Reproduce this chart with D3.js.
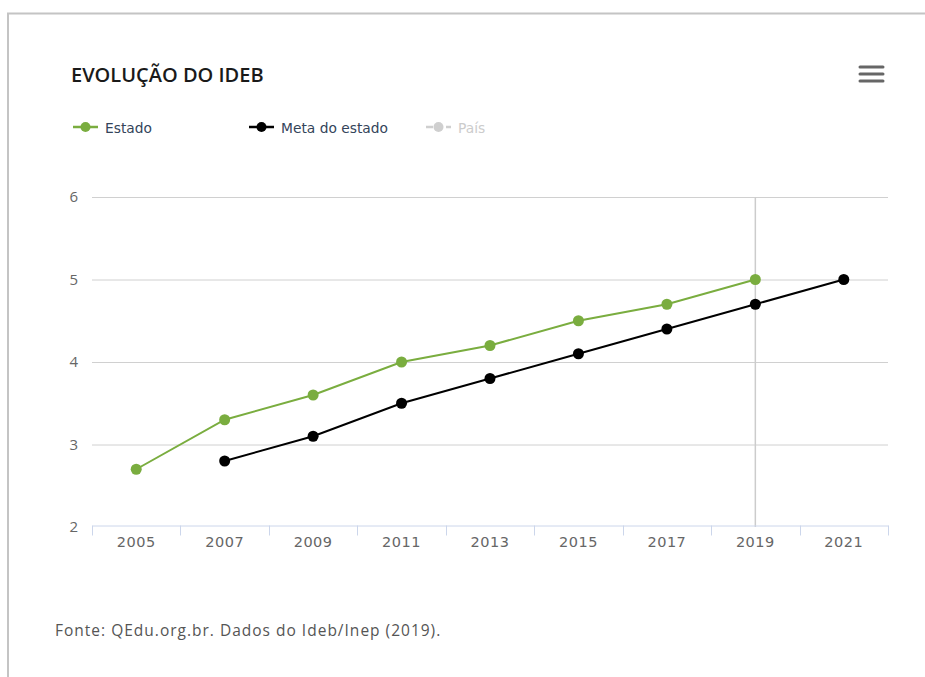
<!DOCTYPE html>
<html>
<head>
<meta charset="utf-8">
<script src="https://cdn.jsdelivr.net/npm/d3@7"></script>
<style>
  html, body { margin: 0; padding: 0; background: #fff; }
  svg { display: block; }
</style>
</head>
<body>
<svg id="chart" width="925" height="677"></svg>
<script>
// IDEB series by year
const years = ["2005", "2007", "2009", "2011", "2013", "2015", "2017", "2019", "2021"];
const estado = [2.7, 3.3, 3.6, 4.0, 4.2, 4.5, 4.7, 5.0, null];
const metaEstado = [null, 2.8, 3.1, 3.5, 3.8, 4.1, 4.4, 4.7, 5.0];
const yTicks = [2, 3, 4, 5, 6];
const legendItems = [
  { name: "Estado", color: "#7aad3f", text: "#34445a", dash: null },
  { name: "Meta do estado", color: "#000000", text: "#34445a", dash: null },
  { name: "País", color: "#cfcfcf", text: "#cccccc", dash: "7,3" }
];

const svg = d3.select("#chart");

// container frame: top and left rules
svg.append("line").attr("x1", 7).attr("x2", 925).attr("y1", 13.5).attr("y2", 13.5)
  .attr("stroke", "#c4c4c4").attr("stroke-width", 2);
svg.append("line").attr("x1", 8).attr("x2", 8).attr("y1", 13).attr("y2", 677)
  .attr("stroke", "#c4c4c4").attr("stroke-width", 2);

// title
svg.append("text").attr("x", 71).attr("y", 82)
  .attr("font-family", "'Open Sans', sans-serif").attr("font-size", 20)
  .attr("font-weight", 600).attr("fill", "#1a1a1a")
  .text("EVOLUÇÃO DO IDEB");

// menu icon
[67, 74, 81].forEach(yy => {
  svg.append("line").attr("x1", 860).attr("x2", 883).attr("y1", yy).attr("y2", yy)
    .attr("stroke", "#666").attr("stroke-width", 3).attr("stroke-linecap", "round");
});

// legend
const legendX = [73, 249, 426];
const lg = svg.append("g").attr("font-family", "'DejaVu Sans', sans-serif").attr("font-size", 13.8);
legendItems.forEach((d, i) => {
  const g = lg.append("g").attr("transform", `translate(${legendX[i]},127)`);
  g.append("line").attr("x1", 0).attr("x2", 25).attr("stroke", d.color).attr("stroke-width", 2.5)
    .attr("stroke-dasharray", d.dash);
  g.append("circle").attr("cx", 12.5).attr("r", 5).attr("fill", d.color);
  g.append("text").attr("x", 32).attr("y", 5.5).attr("fill", d.text).text(d.name);
});

// plot area bounds and scales
const plotLeft = 92, plotRight = 888, plotTop = 197, plotBottom = 527;
const x = d3.scaleBand().domain(years).range([plotLeft, plotRight]);
const y = d3.scaleLinear().domain([2, 6]).range([plotBottom, plotTop]);

// horizontal grid
svg.append("g").selectAll("line").data(yTicks.filter(t => t > 2)).join("line")
  .attr("x1", plotLeft).attr("x2", plotRight)
  .attr("y1", d => y(d) + 0.5).attr("y2", d => y(d) + 0.5)
  .attr("stroke", "#d0d0d0").attr("stroke-width", 1);

// y axis labels
svg.append("g").selectAll("text").data(yTicks).join("text")
  .attr("x", 78).attr("y", d => y(d) + 5)
  .attr("text-anchor", "end")
  .attr("font-family", "'Open Sans', sans-serif").attr("font-size", 15)
  .attr("fill", "#666").text(d => d);

// crosshair at 2019
svg.append("line")
  .attr("x1", x("2019") + x.bandwidth() / 2).attr("x2", x("2019") + x.bandwidth() / 2)
  .attr("y1", plotTop).attr("y2", plotBottom)
  .attr("stroke", "#cccccc").attr("stroke-width", 1.5);

// x axis
const xAxis = svg.append("g").attr("transform", `translate(0,${plotBottom - 1.5})`)
  .call(d3.axisBottom(x).tickSize(0));
xAxis.select(".domain").attr("stroke", "#ccd6eb");
xAxis.selectAll(".tick text")
  .attr("y", 21.5).attr("dy", null)
  .attr("font-family", "'DejaVu Sans', sans-serif")
  .attr("font-size", 14.5).attr("letter-spacing", 0.5).attr("fill", "#666");
// category boundary ticks
xAxis.append("g").selectAll("line")
  .data(years.map(d => x(d)).concat([plotRight]))
  .join("line")
  .attr("x1", d => Math.round(d) + 0.5).attr("x2", d => Math.round(d) + 0.5)
  .attr("y1", 0).attr("y2", 10)
  .attr("stroke", "#ccd6eb");

// series
const cx = d => x(d) + x.bandwidth() / 2;
const seriesDefs = [
  { values: estado, color: "#7aad3f" },
  { values: metaEstado, color: "#000000" }
];
seriesDefs.forEach(s => {
  const pts = years.map((yr, i) => ({ yr, v: s.values[i] })).filter(p => p.v != null);
  const line = d3.line().x(p => cx(p.yr)).y(p => y(p.v));
  svg.append("path").datum(pts).attr("d", line)
    .attr("fill", "none").attr("stroke", s.color).attr("stroke-width", 2);
  svg.append("g").selectAll("circle").data(pts).join("circle")
    .attr("cx", p => cx(p.yr)).attr("cy", p => y(p.v)).attr("r", 5.5)
    .attr("fill", s.color);
});

// source note
svg.append("text").attr("x", 55).attr("y", 636)
  .attr("font-family", "'Open Sans', sans-serif").attr("font-size", 15.5)
  .attr("letter-spacing", 1.0)
  .attr("fill", "#555").text("Fonte: QEdu.org.br. Dados do Ideb/Inep (2019).");
</script>
</body>
</html>
